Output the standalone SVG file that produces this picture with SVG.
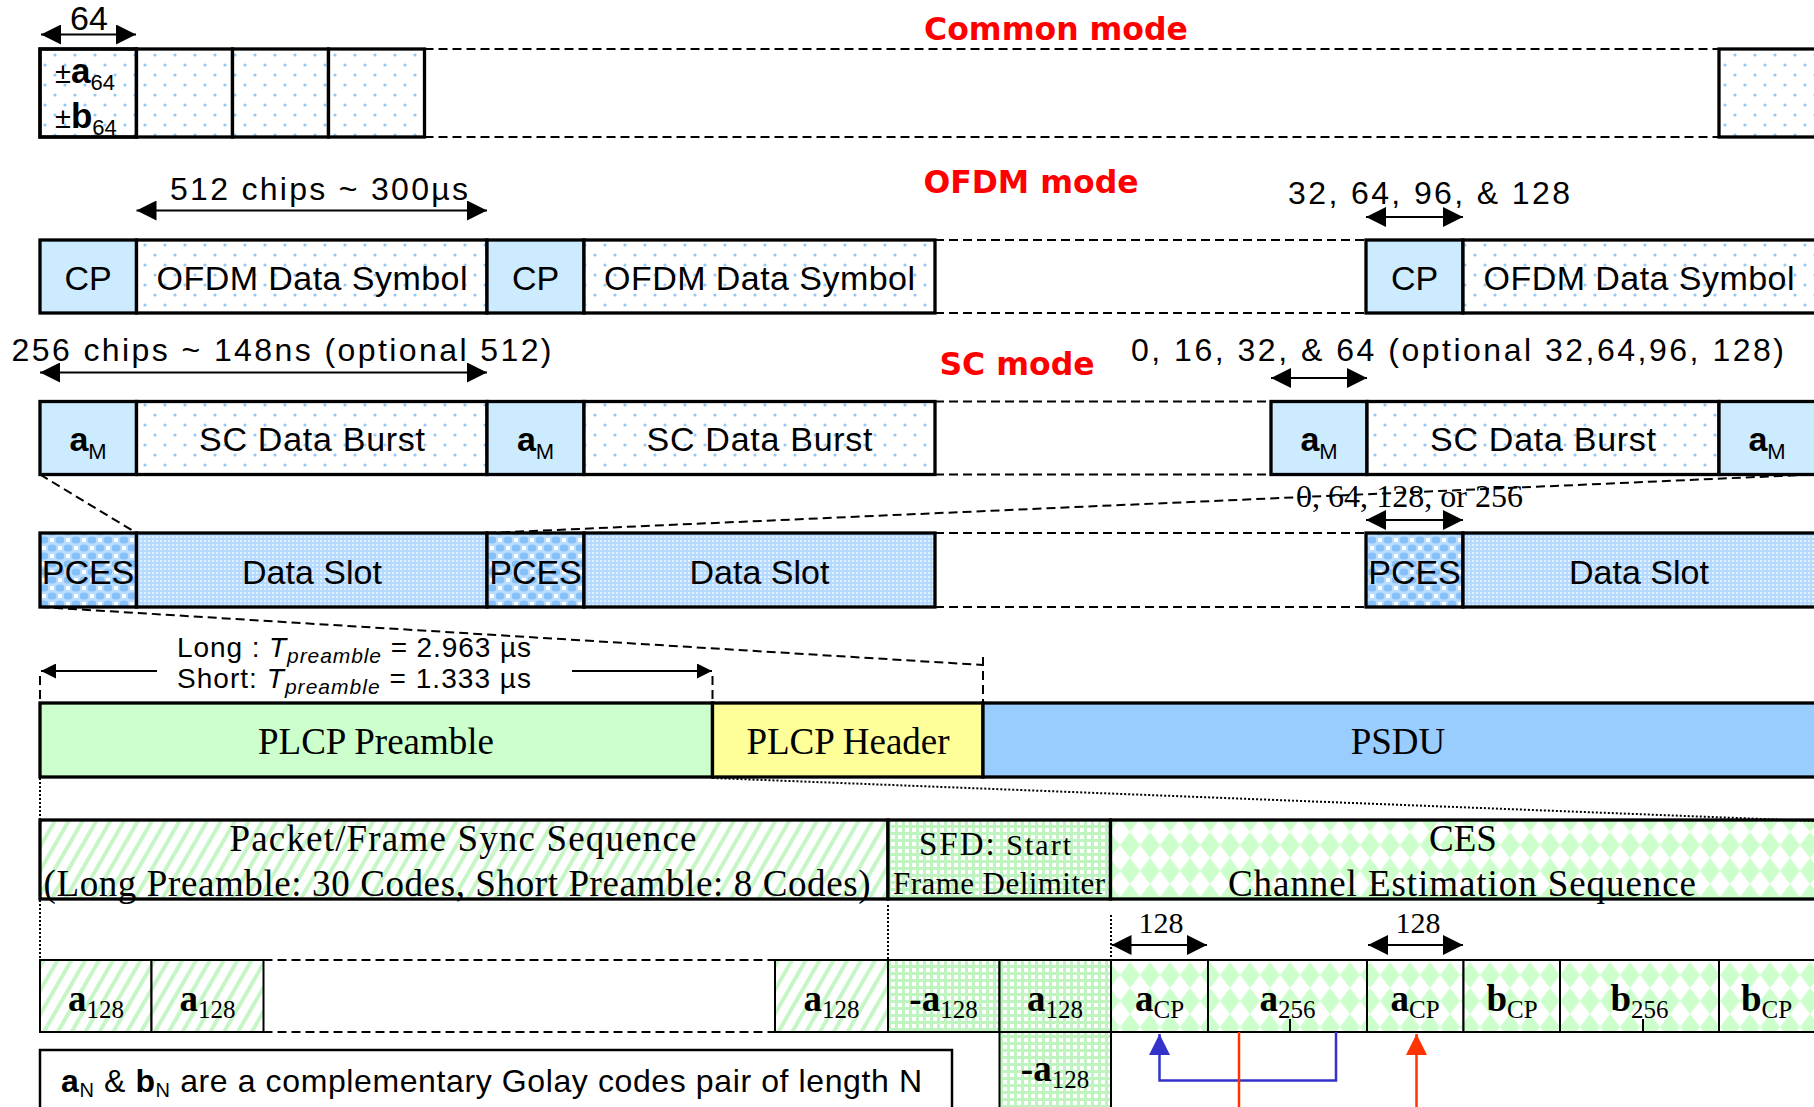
<svg xmlns="http://www.w3.org/2000/svg" width="1814" height="1107" viewBox="0 0 1814 1107">
<defs>
  <style>
    .sans { font-family: "Liberation Sans", Arial, sans-serif; fill: #000; }
    .ser { font-family: "Liberation Serif", "Times New Roman", serif; fill: #000; }
    .lbl { font-size: 34px; text-anchor: middle; }
    .dim { font-size: 32px; }
    .mode { font-family: "DejaVu Sans", Verdana, sans-serif; font-weight: bold; font-size: 31.5px; fill: #ff0000; text-anchor: middle; }
    .box { stroke: #000; stroke-width: 3.3; }
    .thin { stroke: #000; stroke-width: 2; }
    .dots { fill: url(#dots); }
    .cp { fill: #ccebff; }
    .pces { fill: url(#pces); }
    .mesh { fill: url(#mesh); }
    .hatch { fill: url(#hatch); }
    .grid { fill: url(#grid); }
    .argyle { fill: url(#argyle); }
    .dash { stroke: #000; stroke-width: 2; stroke-dasharray: 9 5; fill: none; }
    .dotted { stroke: #000; stroke-width: 2; stroke-dasharray: 2 2; fill: none; }
    .dimline { stroke: #000; stroke-width: 2.2; fill: none; marker-start: url(#head); marker-end: url(#head); }
    .code { font-size: 37px; text-anchor: middle; }
    .b { font-weight: bold; }
  </style>
  <pattern id="dots" width="20" height="20" patternUnits="userSpaceOnUse">
    <rect width="20" height="20" fill="#fff"/>
    <circle cx="5" cy="5" r="1.6" fill="#92c8f7"/>
    <circle cx="15" cy="15" r="1.6" fill="#92c8f7"/>
  </pattern>
  <pattern id="pces" width="16" height="16" patternUnits="userSpaceOnUse">
    <rect width="16" height="16" fill="#b9dcff"/>
    <ellipse cx="4" cy="4" rx="4.5" ry="3.5" fill="#86c0fb"/>
    <ellipse cx="12" cy="12" rx="4.5" ry="3.5" fill="#86c0fb"/>
    <rect x="10" y="2" width="4" height="4" fill="#fff"/>
    <rect x="2" y="10" width="4" height="4" fill="#fff"/>
  </pattern>
  <pattern id="mesh" width="4" height="4" patternUnits="userSpaceOnUse">
    <rect width="4" height="4" fill="#b6daff"/>
    <rect width="2" height="2" fill="#e4f1ff"/>
  </pattern>
  <pattern id="hatch" width="12" height="12" patternUnits="userSpaceOnUse" patternTransform="rotate(30)">
    <rect width="12" height="12" fill="#fff"/>
    <rect width="4" height="12" fill="#c6f5c6"/>
  </pattern>
  <pattern id="grid" width="7" height="7" patternUnits="userSpaceOnUse">
    <rect width="7" height="7" fill="#bff3bf"/>
    <rect x="2" y="2" width="4" height="4" fill="#fff"/>
  </pattern>
  <pattern id="argyle" width="20" height="26" patternUnits="userSpaceOnUse">
    <rect width="20" height="26" fill="#fff"/>
    <path d="M10 0 L20 13 L10 26 L0 13 Z" fill="#ccffcc"/>
  </pattern>
  <marker id="head" viewBox="0 0 10 10" refX="10" refY="5" markerWidth="20" markerHeight="20" markerUnits="userSpaceOnUse" orient="auto-start-reverse">
    <path d="M0 0 L10 5 L0 10 Z" fill="#000"/>
  </marker>
  <marker id="headS" viewBox="0 0 10 10" refX="10" refY="5" markerWidth="18" markerHeight="15" markerUnits="userSpaceOnUse" orient="auto-start-reverse">
    <path d="M0 0 L10 5 L0 10 Z" fill="#000"/>
  </marker>
  <marker id="headBlue" viewBox="0 0 10 10" refX="10" refY="5" markerWidth="23" markerHeight="21" markerUnits="userSpaceOnUse" orient="auto">
    <path d="M0 0 L10 5 L0 10 Z" fill="#3333cc"/>
  </marker>
  <marker id="headRed" viewBox="0 0 10 10" refX="10" refY="5" markerWidth="23" markerHeight="21" markerUnits="userSpaceOnUse" orient="auto">
    <path d="M0 0 L10 5 L0 10 Z" fill="#ff3300"/>
  </marker>
</defs>

<rect width="1814" height="1107" fill="#fff"/>

<!-- mode titles -->
<g id="titles">
  <text class="mode" x="1056" y="40">Common mode</text>
  <text class="mode" x="1031" y="193">OFDM mode</text>
  <text class="mode" x="1017" y="375">SC mode</text>
</g>

<!-- Common mode row -->
<g id="cm-code">
  <rect class="box dots" x="40" y="49" width="96.5" height="88"/>
  <text class="sans" x="55" y="83" font-size="29">±<tspan class="b" font-size="35">a</tspan><tspan font-size="22" dy="7">64</tspan></text>
  <text class="sans" x="55" y="128" font-size="29">±<tspan class="b" font-size="35">b</tspan><tspan font-size="22" dy="7">64</tspan></text>
  <rect x="40" y="49" width="96.5" height="88" fill="none" stroke="#000" stroke-width="3.3"/>
</g>
<g id="cm-2"><rect class="box dots" x="136.5" y="49" width="96" height="88"/></g>
<g id="cm-3"><rect class="box dots" x="232.5" y="49" width="96" height="88"/></g>
<g id="cm-4"><rect class="box dots" x="328.5" y="49" width="96" height="88"/></g>
<g id="cm-last"><rect class="box dots" x="1719" y="49" width="110" height="88"/></g>

<!-- OFDM mode row -->
<g id="ofdm-cp1"><rect class="box cp" x="40" y="240" width="96.5" height="73"/><text class="sans lbl" x="88" y="290">CP</text></g>
<g id="ofdm-sym1"><rect class="box dots" x="136.5" y="240" width="350.5" height="73"/><text class="sans lbl" x="312" y="290" textLength="311">OFDM Data Symbol</text></g>
<g id="ofdm-cp2"><rect class="box cp" x="487" y="240" width="97" height="73"/><text class="sans lbl" x="535.5" y="290">CP</text></g>
<g id="ofdm-sym2"><rect class="box dots" x="584" y="240" width="351" height="73"/><text class="sans lbl" x="759.5" y="290" textLength="311">OFDM Data Symbol</text></g>
<g id="ofdm-cp3"><rect class="box cp" x="1366" y="240" width="97" height="73"/><text class="sans lbl" x="1414.5" y="290">CP</text></g>
<g id="ofdm-sym3"><rect class="box dots" x="1463" y="240" width="370" height="73"/><text class="sans lbl" x="1639" y="290" textLength="311">OFDM Data Symbol</text></g>

<!-- SC mode row -->
<g id="sc-am1"><rect class="box cp" x="40" y="401.5" width="96.5" height="73"/><text class="sans" x="88" y="451" text-anchor="middle"><tspan class="b" font-size="34">a</tspan><tspan font-size="22" dy="8">M</tspan></text></g>
<g id="sc-burst1"><rect class="box dots" x="136.5" y="401.5" width="350.5" height="73"/><text class="sans lbl" x="312" y="451" textLength="226">SC Data Burst</text></g>
<g id="sc-am2"><rect class="box cp" x="487" y="401.5" width="97" height="73"/><text class="sans" x="535.5" y="451" text-anchor="middle"><tspan class="b" font-size="34">a</tspan><tspan font-size="22" dy="8">M</tspan></text></g>
<g id="sc-burst2"><rect class="box dots" x="584" y="401.5" width="351" height="73"/><text class="sans lbl" x="759.5" y="451" textLength="226">SC Data Burst</text></g>
<g id="sc-am3"><rect class="box cp" x="1271" y="401.5" width="96" height="73"/><text class="sans" x="1319" y="451" text-anchor="middle"><tspan class="b" font-size="34">a</tspan><tspan font-size="22" dy="8">M</tspan></text></g>
<g id="sc-burst3"><rect class="box dots" x="1367" y="401.5" width="352" height="73"/><text class="sans lbl" x="1543" y="451" textLength="226">SC Data Burst</text></g>
<g id="sc-am4"><rect class="box cp" x="1719" y="401.5" width="110" height="73"/><text class="sans" x="1767" y="451" text-anchor="middle"><tspan class="b" font-size="34">a</tspan><tspan font-size="22" dy="8">M</tspan></text></g>

<!-- PCES / data slot row -->
<g id="slot-pces1"><rect class="box pces" x="40" y="533" width="96.5" height="74"/><text class="sans lbl" x="88" y="584" font-size="31">PCES</text></g>
<g id="slot-data1"><rect class="box mesh" x="136.5" y="533" width="350.5" height="74"/><text class="sans lbl" x="312" y="584">Data Slot</text></g>
<g id="slot-pces2"><rect class="box pces" x="487" y="533" width="97" height="74"/><text class="sans lbl" x="535.5" y="584" font-size="31">PCES</text></g>
<g id="slot-data2"><rect class="box mesh" x="584" y="533" width="351" height="74"/><text class="sans lbl" x="759.5" y="584">Data Slot</text></g>
<g id="slot-pces3"><rect class="box pces" x="1366" y="533" width="97" height="74"/><text class="sans lbl" x="1414.5" y="584" font-size="31">PCES</text></g>
<g id="slot-data3"><rect class="box mesh" x="1463" y="533" width="370" height="74"/><text class="sans lbl" x="1639" y="584">Data Slot</text></g>

<!-- PLCP frame row -->
<g id="plcp-preamble"><rect class="box" fill="#ccffcc" x="40" y="703" width="672.5" height="74"/><text class="ser" x="376" y="754" font-size="37" text-anchor="middle">PLCP Preamble</text></g>
<g id="plcp-header"><rect class="box" fill="#ffff99" x="712.5" y="703" width="270.5" height="74"/><text class="ser" x="848" y="754" font-size="37" text-anchor="middle">PLCP Header</text></g>
<g id="psdu"><rect class="box" fill="#99ccff" x="983" y="703" width="850" height="74"/><text class="ser" x="1398" y="754" font-size="37" text-anchor="middle">PSDU</text></g>

<!-- preamble structure row -->
<g id="sync-seq"><rect class="box hatch" x="40" y="820" width="848" height="79"/>
  <text class="ser" x="463" y="851" font-size="37" text-anchor="middle" textLength="467">Packet/Frame Sync Sequence</text>
  <text class="ser" x="457" y="896" font-size="37" text-anchor="middle" textLength="827">(Long Preamble: 30 Codes, Short Preamble: 8 Codes)</text>
</g>
<g id="sfd"><rect class="box grid" x="888" y="820" width="222.5" height="79"/>
  <text class="ser" x="995" y="855" text-anchor="middle" textLength="152"><tspan font-size="33">SFD:</tspan><tspan font-size="30"> Start</tspan></text>
  <text class="ser" x="999" y="894" font-size="31" text-anchor="middle" textLength="212">Frame Delimiter</text>
</g>
<g id="ces"><rect class="box argyle" x="1110.5" y="820" width="723" height="79"/>
  <text class="ser" x="1463" y="851" font-size="37" text-anchor="middle">CES</text>
  <text class="ser" x="1462" y="896" font-size="37" text-anchor="middle" textLength="468">Channel Estimation Sequence</text>
</g>

<!-- code sequence row -->
<g id="c-a128-1"><rect class="thin hatch" x="40" y="960" width="111.5" height="72"/><text class="ser code" x="96" y="1011"><tspan class="b">a</tspan><tspan font-size="25" dy="7">128</tspan></text></g>
<g id="c-a128-2"><rect class="thin hatch" x="151.5" y="960" width="112" height="72"/><text class="ser code" x="207.5" y="1011"><tspan class="b">a</tspan><tspan font-size="25" dy="7">128</tspan></text></g>
<g id="c-a128-3"><rect class="thin hatch" x="775" y="960" width="113" height="72"/><text class="ser code" x="831.5" y="1011"><tspan class="b">a</tspan><tspan font-size="25" dy="7">128</tspan></text></g>
<g id="c-na128"><rect class="thin grid" x="888" y="960" width="111.5" height="72"/><text class="ser code" x="943.5" y="1011"><tspan class="b">-a</tspan><tspan font-size="25" dy="7">128</tspan></text></g>
<g id="c-a128-4"><rect class="thin grid" x="999.5" y="960" width="111.5" height="72"/><text class="ser code" x="1055" y="1011"><tspan class="b">a</tspan><tspan font-size="25" dy="7">128</tspan></text></g>
<g id="c-na128-alt"><rect class="thin grid" x="999.5" y="1032" width="111.5" height="90"/><text class="ser code" x="1055" y="1081"><tspan class="b">-a</tspan><tspan font-size="25" dy="7">128</tspan></text></g>
<g id="c-acp1"><rect class="thin argyle" x="1111" y="960" width="97" height="72"/><text class="ser code" x="1159.5" y="1011"><tspan class="b">a</tspan><tspan font-size="25" dy="7">CP</tspan></text></g>
<g id="c-a256"><rect class="thin argyle" x="1208" y="960" width="159" height="72"/><line x1="1290" y1="1019" x2="1290" y2="1032" stroke="#000" stroke-width="2"/><text class="ser code" x="1287.5" y="1011"><tspan class="b">a</tspan><tspan font-size="25" dy="7">256</tspan></text></g>
<g id="c-acp2"><rect class="thin argyle" x="1367" y="960" width="96.5" height="72"/><text class="ser code" x="1415" y="1011"><tspan class="b">a</tspan><tspan font-size="25" dy="7">CP</tspan></text></g>
<g id="c-bcp1"><rect class="thin argyle" x="1463.5" y="960" width="96.5" height="72"/><text class="ser code" x="1512" y="1011"><tspan class="b">b</tspan><tspan font-size="25" dy="7">CP</tspan></text></g>
<g id="c-b256"><rect class="thin argyle" x="1560" y="960" width="159" height="72"/><line x1="1643" y1="1019" x2="1643" y2="1032" stroke="#000" stroke-width="2"/><text class="ser code" x="1639.5" y="1011"><tspan class="b">b</tspan><tspan font-size="25" dy="7">256</tspan></text></g>
<g id="c-bcp2"><rect class="thin argyle" x="1719" y="960" width="110" height="72"/><text class="ser code" x="1766.5" y="1011"><tspan class="b">b</tspan><tspan font-size="25" dy="7">CP</tspan></text></g>

<!-- legend -->
<g id="legend"><rect x="40" y="1050" width="912" height="80" fill="#fff" stroke="#000" stroke-width="2.5"/>
  <text class="sans" x="61" y="1092" font-size="32" textLength="861"><tspan class="b">a</tspan><tspan font-size="20" dy="5">N</tspan><tspan dy="-5"> &amp; </tspan><tspan class="b">b</tspan><tspan font-size="20" dy="5">N</tspan><tspan dy="-5"> are a complementary Golay codes pair of length N</tspan></text>
</g>

<!-- dimension markers -->
<g id="dimensions">
  <line class="dimline" x1="41" y1="34.5" x2="136" y2="34.5"/>
  <text class="sans" x="89" y="30" font-size="34" text-anchor="middle">64</text>

  <line class="dimline" x1="136.5" y1="210.5" x2="487" y2="210.5"/>
  <text class="sans dim" x="170" y="200" textLength="298">512 chips ~ 300µs</text>

  <line class="dimline" x1="1366" y1="217" x2="1463" y2="217"/>
  <text class="sans dim" x="1288" y="204" textLength="282">32, 64, 96, &amp; 128</text>

  <line class="dimline" x1="40" y1="372.5" x2="487" y2="372.5"/>
  <text class="sans dim" x="11.5" y="360.5" textLength="540">256 chips ~ 148ns (optional 512)</text>

  <line class="dimline" x1="1271" y1="378" x2="1367" y2="378"/>
  <text class="sans dim" x="1131" y="360.5" textLength="653">0, 16, 32, &amp; 64 (optional 32,64,96, 128)</text>

  <text class="ser" x="1409.5" y="507" font-size="32" text-anchor="middle" textLength="227">0, 64, 128, or 256</text>
  <line class="dimline" x1="1366" y1="520" x2="1463" y2="520"/>

  <text class="sans" x="177" y="656.5" font-size="28" textLength="354">Long : <tspan font-style="italic">T</tspan><tspan font-style="italic" font-size="21" dy="6">preamble</tspan><tspan dy="-6"> = 2.963 µs</tspan></text>
  <text class="sans" x="177" y="688" font-size="28" textLength="354">Short: <tspan font-style="italic">T</tspan><tspan font-style="italic" font-size="21" dy="6">preamble</tspan><tspan dy="-6"> = 1.333 µs</tspan></text>
  <line x1="157" y1="671" x2="41" y2="671" stroke="#000" stroke-width="2.2" marker-end="url(#headS)"/>
  <line x1="572" y1="671" x2="712" y2="671" stroke="#000" stroke-width="2.2" marker-end="url(#headS)"/>

  <line class="dimline" x1="1111.5" y1="945" x2="1207" y2="945"/>
  <text class="ser" x="1161" y="933" font-size="30" text-anchor="middle">128</text>
  <line class="dimline" x1="1368" y1="945" x2="1463" y2="945"/>
  <text class="ser" x="1418" y="933" font-size="30" text-anchor="middle">128</text>
</g>

<!-- connectors -->
<g id="connectors">
  <line class="dash" x1="424.5" y1="49" x2="1719" y2="49"/>
  <line class="dash" x1="424.5" y1="137" x2="1719" y2="137"/>
  <line class="dash" x1="935" y1="240" x2="1366" y2="240"/>
  <line class="dash" x1="935" y1="313" x2="1366" y2="313"/>
  <line class="dash" x1="935" y1="401.5" x2="1271" y2="401.5"/>
  <line class="dash" x1="935" y1="474.5" x2="1271" y2="474.5"/>
  <line class="dash" x1="40" y1="474.5" x2="136.5" y2="533"/>
  <line class="dash" x1="487" y1="533" x2="1814" y2="474.5"/>
  <line class="dash" x1="935" y1="533" x2="1366" y2="533"/>
  <line class="dash" x1="935" y1="607" x2="1366" y2="607"/>
  <line class="dash" x1="40" y1="607" x2="983" y2="665"/>
  <line class="dash" x1="40" y1="676" x2="40" y2="703" stroke-dasharray="7 4"/>
  <line class="dash" x1="712.5" y1="676" x2="712.5" y2="703" stroke-dasharray="7 4"/>
  <line class="dash" x1="983" y1="657" x2="983" y2="703" stroke-dasharray="7 4"/>
  <line class="dotted" x1="712.5" y1="778" x2="1814" y2="821"/>
  <line class="dotted" x1="40" y1="778" x2="40" y2="820"/>
  <line class="dotted" x1="40" y1="900" x2="40" y2="960"/>
  <line class="dotted" x1="888" y1="905" x2="888" y2="960"/>
  <line class="dotted" x1="1111" y1="915" x2="1111" y2="960"/>
  <line class="dash" x1="263.5" y1="960" x2="775" y2="960"/>
  <line class="dash" x1="263.5" y1="1032" x2="775" y2="1032"/>
  <path d="M1336 1032 V1080.5 H1159.5 V1034" fill="none" stroke="#3333cc" stroke-width="2.5" marker-end="url(#headBlue)"/>
  <line x1="1239" y1="1032" x2="1239" y2="1107" stroke="#ff3300" stroke-width="2.5"/>
  <line x1="1416.5" y1="1110" x2="1416.5" y2="1034" stroke="#ff3300" stroke-width="2.5" marker-end="url(#headRed)"/>
</g>
</svg>
